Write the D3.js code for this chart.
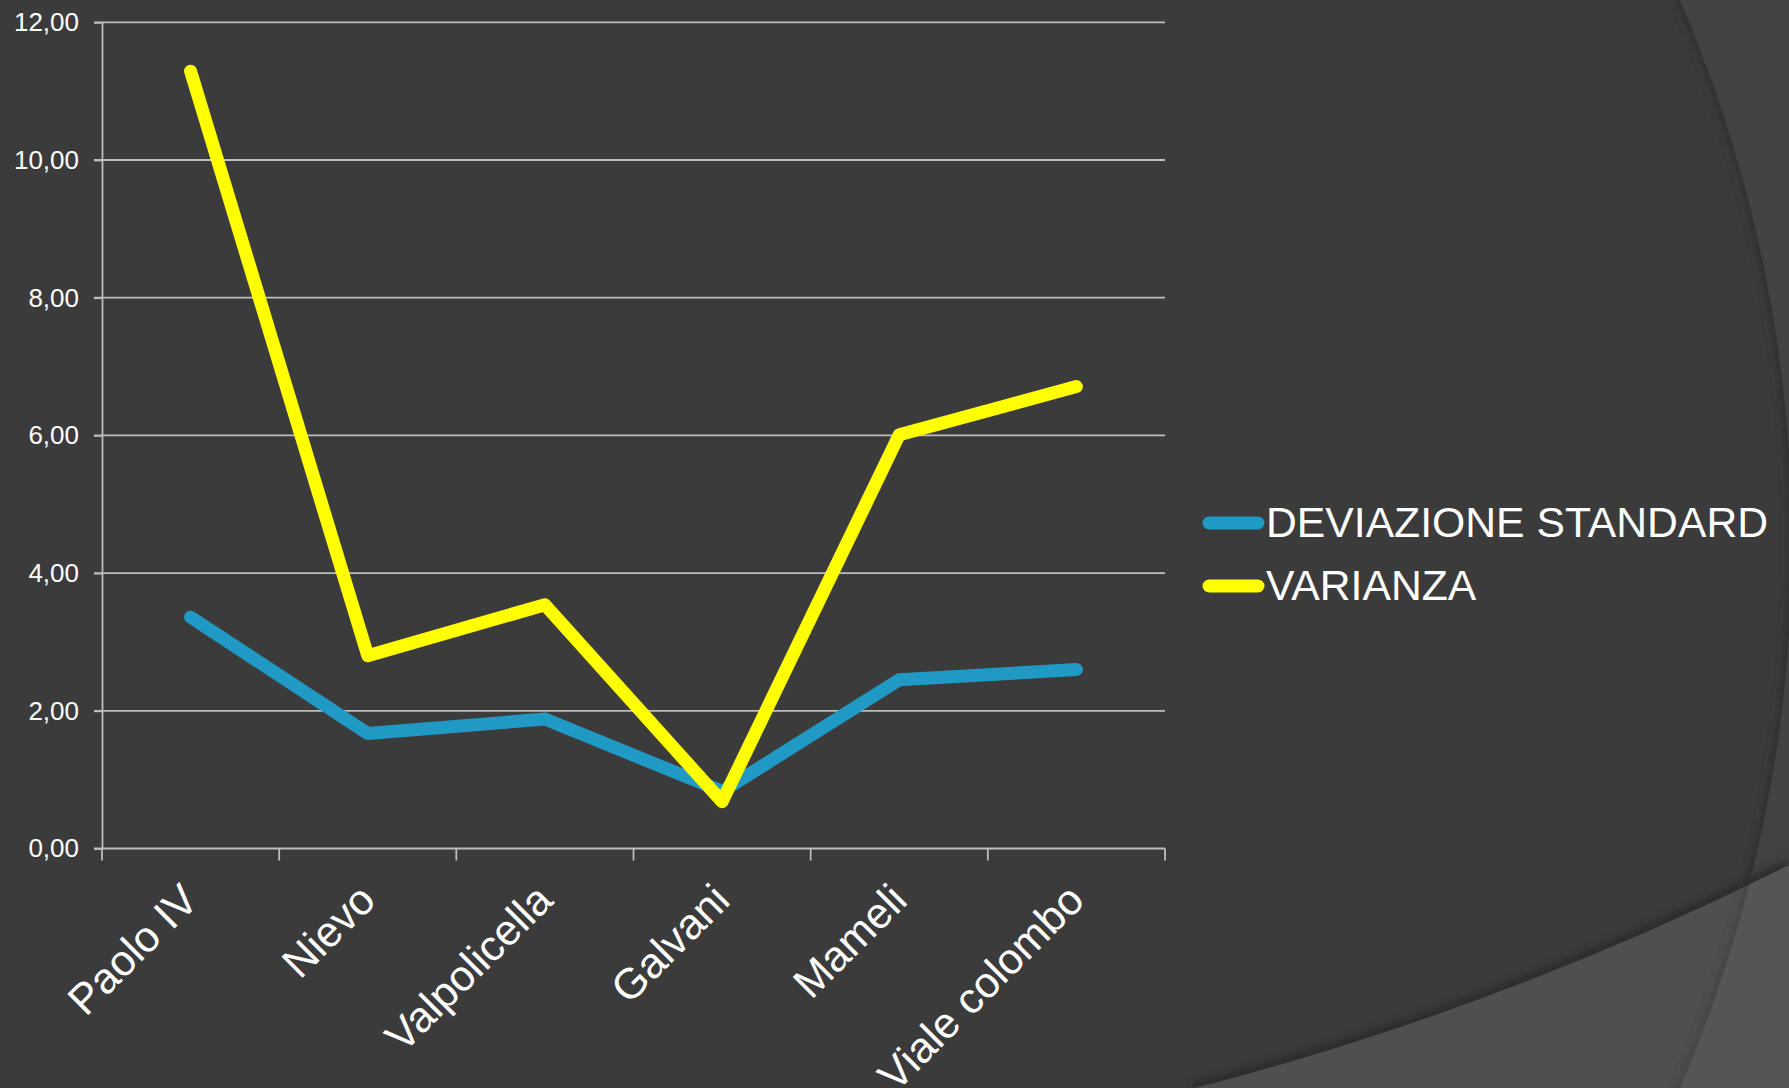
<!DOCTYPE html>
<html lang="it">
	<head>
		<meta charset="utf-8">
		<title>Deviazione standard e varianza</title>
		<script type="text/javascript" src="https://cdn.jsdelivr.net/npm/d3@7"></script>
		<style type="text/css">
			body { margin: 0; background: #3b3b3b; }
			svg { display: block; font-family: "Liberation Sans", Arial, sans-serif; }
		</style>
	</head>
	<body>
		<script type="text/javascript">

			//Width and height
			var w = 1789;
			var h = 1088;

			//Data
			var categories = ["Paolo IV", "Nievo", "Valpolicella", "Galvani", "Mameli", "Viale colombo"];
			var deviazione = [3.36, 1.67, 1.88, 0.83, 2.45, 2.60];
			var varianza = [11.29, 2.80, 3.54, 0.68, 6.01, 6.71];
			var yTicks = [0, 2, 4, 6, 8, 10, 12];
			var seriesNames = ["DEVIAZIONE STANDARD", "VARIANZA"];
			var seriesColors = ["#209ac4", "#ffff00"];

			//Plot area (not "top": that name is taken by window.top)
			var plotLeft = 102, plotRight = 1165, plotTop = 22.3, plotBottom = 848.5;

			//Italian number format: 12,00
			var itFormat = d3.formatLocale({decimal: ",", thousands: ".", grouping: [3], currency: ["€", ""]}).format(".2f");

			var xScale = d3.scaleBand()
				.domain(categories)
				.range([plotLeft, plotRight]);

			var yScale = d3.scaleLinear()
				.domain([0, 12])
				.range([plotBottom, plotTop]);

			var svg = d3.select("body")
				.append("svg")
				.attr("width", w)
				.attr("height", h);

			//Background theme shapes
			var defs = svg.append("defs");
			defs.append("filter")
				.attr("id", "soft")
				.append("feGaussianBlur")
				.attr("stdDeviation", 4);
			defs.append("clipPath")
				.attr("id", "inCircle")
				.append("circle")
				.attr("cx", 415).attr("cy", 544).attr("r", 1377);
			defs.append("clipPath")
				.attr("id", "aboveCurve")
				.append("path")
				.attr("d", "M0 0 L1789 0 L1789 865 A3000 3000 0 0 1 1195 1088 L0 1088 Z");

			svg.append("rect")
				.attr("width", w)
				.attr("height", h)
				.attr("fill", "#424242");

			svg.append("circle")
				.attr("cx", 415).attr("cy", 544).attr("r", 1377)
				.attr("fill", "#3b3b3b");

			svg.append("circle")
				.attr("cx", 415).attr("cy", 544).attr("r", 1377)
				.attr("fill", "none")
				.attr("stroke", "#2e2e2e")
				.attr("stroke-width", 8)
				.attr("filter", "url(#soft)")
				.attr("clip-path", "url(#inCircle)");

			svg.append("path")
				.attr("d", "M1195 1088 A3000 3000 0 0 0 1789 865")
				.attr("fill", "none")
				.attr("stroke", "#2a2a2a")
				.attr("stroke-width", 12)
				.attr("filter", "url(#soft)")
				.attr("clip-path", "url(#aboveCurve)");

			svg.append("path")
				.attr("d", "M1195 1088 A3000 3000 0 0 0 1789 865 L1789 1088 Z")
				.attr("fill", "#ffffff")
				.attr("fill-opacity", 0.1);

			//Gridlines
			svg.append("g")
				.selectAll("line")
				.data(yTicks.filter(function(d) { return d > 0; }))
				.enter()
				.append("line")
				.attr("x1", plotLeft - 8)
				.attr("x2", plotRight)
				.attr("y1", function(d) { return yScale(d); })
				.attr("y2", function(d) { return yScale(d); })
				.attr("stroke", "#bdbdbd")
				.attr("stroke-width", 1.8);

			//Y axis
			var yAxis = d3.axisLeft(yScale)
				.tickValues(yTicks)
				.tickSize(8)
				.tickSizeOuter(0)
				.tickPadding(15)
				.tickFormat(itFormat);

			var gy = svg.append("g")
				.attr("transform", "translate(" + plotLeft + ",0)")
				.call(yAxis);
			gy.selectAll("path, line")
				.attr("stroke", "#bdbdbd")
				.attr("stroke-width", 1.8);
			gy.selectAll("text")
				.attr("fill", "#ffffff")
				.attr("font-size", "26px")
				.attr("font-family", "Liberation Sans, Arial, sans-serif");

			//X axis line and tick marks between categories
			svg.append("line")
				.attr("x1", plotLeft - 8)
				.attr("x2", plotRight)
				.attr("y1", plotBottom)
				.attr("y2", plotBottom)
				.attr("stroke", "#bdbdbd")
				.attr("stroke-width", 1.8);

			var bounds = categories.map(function(c) { return xScale(c); }).concat([xScale.range()[1]]);
			svg.append("g")
				.selectAll("line")
				.data(bounds)
				.enter()
				.append("line")
				.attr("x1", function(d) { return d; })
				.attr("x2", function(d) { return d; })
				.attr("y1", plotBottom)
				.attr("y2", plotBottom + 12)
				.attr("stroke", "#bdbdbd")
				.attr("stroke-width", 1.8);

			//Category labels
			svg.append("g")
				.selectAll("text")
				.data(categories)
				.enter()
				.append("text")
				.text(function(d) { return d; })
				.attr("transform", function(d) {
					return "translate(" + (xScale(d) + xScale.bandwidth() / 2 + 10) + "," + (plotBottom + 54) + ") rotate(-45)";
				})
				.attr("text-anchor", "end")
				.attr("font-size", "43px")
				.attr("fill", "#ffffff");

			//Lines
			var line = d3.line()
				.x(function(d, i) { return xScale(categories[i]) + xScale.bandwidth() / 2; })
				.y(function(d) { return yScale(d); });

			[deviazione, varianza].forEach(function(values, i) {
				svg.append("path")
					.datum(values)
					.attr("d", line)
					.attr("fill", "none")
					.attr("stroke", seriesColors[i])
					.attr("stroke-width", 13)
					.attr("stroke-linejoin", "round")
					.attr("stroke-linecap", "round");
			});

			//Legend
			var legend = svg.append("g")
				.selectAll("g")
				.data(seriesNames)
				.enter()
				.append("g")
				.attr("transform", function(d, i) { return "translate(0," + (523 + i * 63) + ")"; });

			legend.append("line")
				.attr("x1", 1209)
				.attr("x2", 1258)
				.attr("stroke", function(d, i) { return seriesColors[i]; })
				.attr("stroke-width", 13)
				.attr("stroke-linecap", "round");

			legend.append("text")
				.text(function(d) { return d; })
				.attr("x", 1266)
				.attr("y", 14)
				.attr("font-size", "42.7px")
				.attr("fill", "#ffffff");

		</script>
	</body>
</html>
